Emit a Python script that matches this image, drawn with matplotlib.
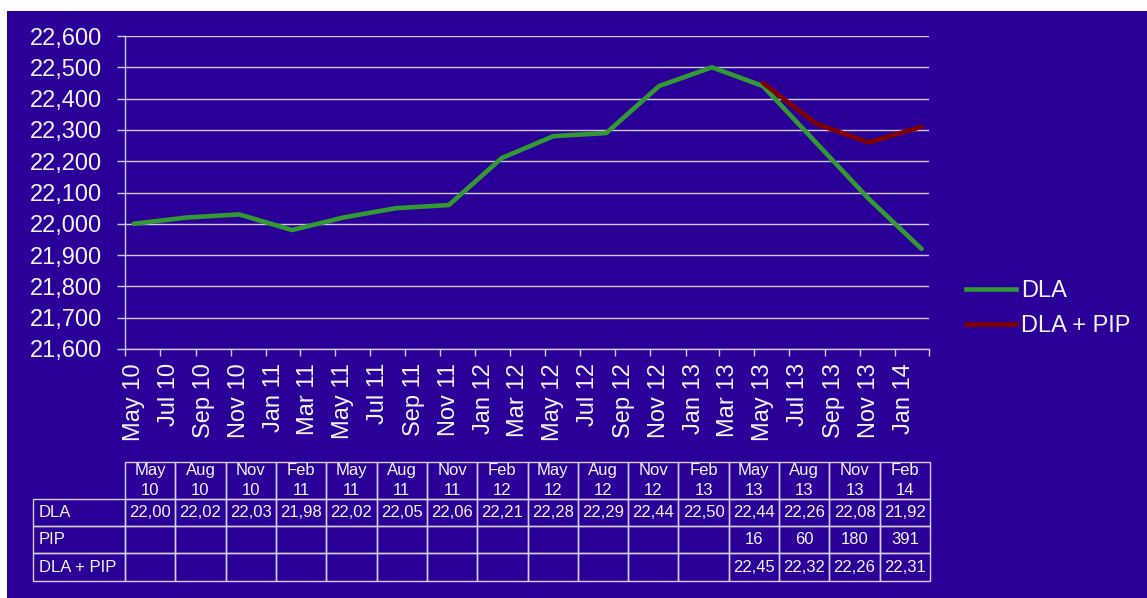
import matplotlib
matplotlib.use("Agg")
import matplotlib.pyplot as plt
import matplotlib.dates as mdates
from matplotlib.patches import Rectangle
from matplotlib.lines import Line2D
from matplotlib.table import Table
from matplotlib.ticker import StrMethodFormatter, NullFormatter
import pandas as pd

# ---- data -------------------------------------------------------------
periods = ["May 10", "Aug 10", "Nov 10", "Feb 11", "May 11", "Aug 11", "Nov 11", "Feb 12",
           "May 12", "Aug 12", "Nov 12", "Feb 13", "May 13", "Aug 13", "Nov 13", "Feb 14"]
dla = [22000, 22020, 22030, 21980, 22020, 22050, 22060, 22210,
       22280, 22290, 22440, 22500, 22440, 22260, 22080, 21920]
pip_periods = ["May 13", "Aug 13", "Nov 13", "Feb 14"]
pip = [16, 60, 180, 391]
dla_pip = [22450, 22320, 22260, 22310]
y_ticks = list(range(21600, 22601, 100))

# ---- style ------------------------------------------------------------
BG = "#2B0099"
GRID = "#CFC9EC"
TEXT = "#F4F2FA"
EDGE = "#D4CEF0"
GREEN = "#339933"
RED = "#800000"

plt.rcParams["font.family"] = ["Liberation Sans", "DejaVu Sans"]

W, H = 1147, 598
fig = plt.figure(figsize=(W / 100, H / 100), dpi=100)
fig.patch.set_facecolor("white")
fig.add_artist(Rectangle((7 / W, 0), 1 - 7 / W, 1 - 11 / H, transform=fig.transFigure,
                         facecolor=BG, edgecolor="none", zorder=-10))


def px_box(x0, y0, x1, y1):
    """Axes rectangle from pixel corners (top-left origin)."""
    return [x0 / W, (H - y1) / H, (x1 - x0) / W, (y1 - y0) / H]


# ---- line chart -------------------------------------------------------
ax = fig.add_axes(px_box(125, 36, 929, 349))
ax.set_facecolor("none")

month_start = pd.to_datetime(periods, format="%b %y")
x = month_start + pd.Timedelta(days=15)
x_pip = pd.to_datetime(pip_periods, format="%b %y") + pd.Timedelta(days=15)

ax.plot(x, dla, color=GREEN, lw=3.3, solid_joinstyle="round", solid_capstyle="round", zorder=3)
ax.plot(x_pip, dla_pip, color=RED, lw=3.3, solid_joinstyle="round", solid_capstyle="round", zorder=4)

x_end = month_start[-1] + pd.offsets.MonthBegin(1)
ax.set_xlim(mdates.date2num(month_start[0]), mdates.date2num(x_end))
ax.set_ylim(y_ticks[0], y_ticks[-1])
ax.set_yticks(y_ticks)
ax.yaxis.set_major_formatter(StrMethodFormatter("{x:,.0f}"))

odd_months = [1, 3, 5, 7, 9, 11]
ax.xaxis.set_major_locator(mdates.MonthLocator(bymonth=odd_months))
ax.xaxis.set_major_formatter(NullFormatter())
ax.xaxis.set_minor_locator(mdates.MonthLocator(bymonth=odd_months, bymonthday=16))
ax.xaxis.set_minor_formatter(mdates.DateFormatter("%b %y"))

ax.yaxis.grid(True, color=GRID, lw=1.0)
ax.set_axisbelow(True)
for side in ("top", "right"):
    ax.spines[side].set_visible(False)
for side in ("left", "bottom"):
    ax.spines[side].set_color(GRID)
    ax.spines[side].set_linewidth(1.0)

ax.tick_params(axis="y", which="major", length=5.5, width=1.0, color=GRID,
               labelsize=17, labelcolor=TEXT, pad=11)
ax.tick_params(axis="x", which="major", length=5, width=1.0, color=GRID)
ax.tick_params(axis="x", which="minor", length=0, labelsize=17, labelcolor=TEXT,
               pad=10, labelrotation=90)

# ---- legend -----------------------------------------------------------
handles = [Line2D([], [], color=GREEN, lw=3.3), Line2D([], [], color=RED, lw=3.3)]
fig.legend(handles, ["DLA", "DLA + PIP"], loc="center left",
           bbox_to_anchor=(957 / W, 1 - 308.5 / H), frameon=False, fontsize=17,
           handlelength=2.1, handletextpad=0.2, labelspacing=0.55, labelcolor=TEXT,
           borderaxespad=0)

# ---- data table -------------------------------------------------------
tax = fig.add_axes(px_box(33, 462, 930, 581))
tax.axis("off")
tbl = Table(tax, bbox=[0, 0, 1, 1])

label_w = 92
col_w = (930 - 125) / 16
row_heights = [37, 27, 27, 28]


def fmt_thousands(v):
    return f"{v / 1000:.2f}".replace(".", ",")


pip_lookup = dict(zip(pip_periods, pip))
dla_pip_lookup = dict(zip(pip_periods, dla_pip))
rows = [
    ("DLA", [fmt_thousands(v) for v in dla]),
    ("PIP", [str(pip_lookup[p]) if p in pip_lookup else "" for p in periods]),
    ("DLA + PIP", [fmt_thousands(dla_pip_lookup[p]) if p in dla_pip_lookup else "" for p in periods]),
]


def add(r, c, w, text, loc="center"):
    cell = tbl.add_cell(r, c, width=w, height=row_heights[r], text=text, loc=loc,
                        facecolor="none", edgecolor=EDGE)
    cell.set_linewidth(1.0)
    cell.get_text().set_color(TEXT)
    return cell


for j, p in enumerate(periods):
    cell = add(0, j + 1, col_w, p.replace(" ", "\n"))
    cell.get_text().set_linespacing(1.4)

for i, (name, vals) in enumerate(rows, start=1):
    lab = add(i, 0, label_w, name, loc="left")
    lab.PAD = 0.065
    for j, v in enumerate(vals):
        add(i, j + 1, col_w, v)

tbl.auto_set_font_size(False)
tbl.set_fontsize(12)
tax.add_table(tbl)

fig.savefig("out.png", dpi=100, facecolor=fig.get_facecolor())
